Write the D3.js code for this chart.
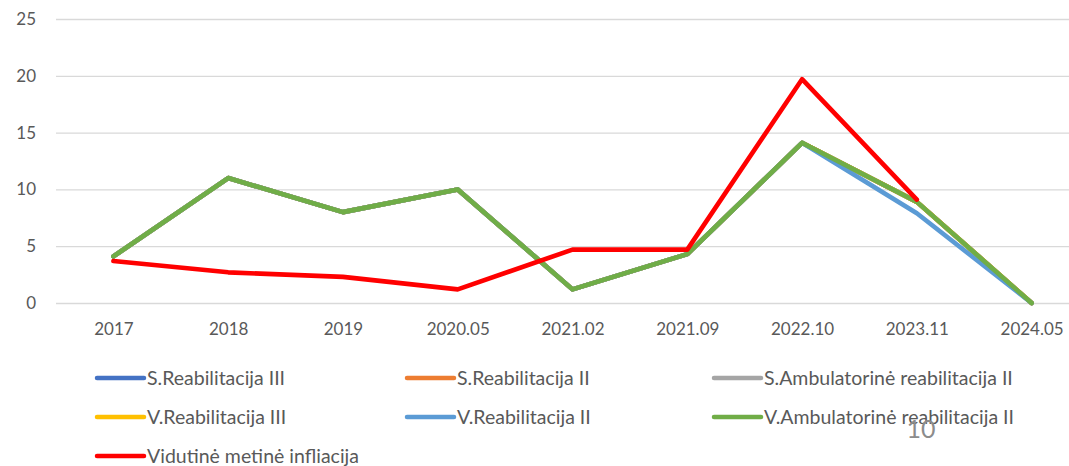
<!DOCTYPE html>
<html>
<head>
<meta charset="utf-8">
<script src="https://cdn.jsdelivr.net/npm/d3@7"></script>
<style>
  body { margin: 0; background: #fff; }
  text { font-family: Lato, "Open Sans", sans-serif; }
</style>
</head>
<body>
<svg id="chart"></svg>
<script>
var categories = ["2017", "2018", "2019", "2020.05", "2021.02", "2021.09", "2022.10", "2023.11", "2024.05"]

var sReab3  = [4.1, 11, 8, 10, 1.2, 4.3, 14.1, 8.9, 0]
var sReab2  = [4.1, 11, 8, 10, 1.2, 4.3, 14.1, 8.9, 0]
var sAmb2   = [4.1, 11, 8, 10, 1.2, 4.3, 14.1, 8.9, 0]
var vReab3  = [4.1, 11, 8, 10, 1.2, 4.3, 14.1, 8.9, 0]
var vReab2  = [4.1, 11, 8, 10, 1.2, 4.3, 14.1, 7.9, 0]
var vAmb2   = [4.1, 11, 8, 10, 1.2, 4.3, 14.1, 8.9, 0]
var inflation = [3.7, 2.7, 2.3, 1.2, 4.7, 4.7, 19.7, 9.1, null]

var yTicks = [0, 5, 10, 15, 20, 25]

var series = [
    {name: "S.Reabilitacija III", values: sReab3, color: "#4472C4"},
    {name: "S.Reabilitacija II", values: sReab2, color: "#ED7D31"},
    {name: "S.Ambulatorinė reabilitacija II", values: sAmb2, color: "#A5A5A5"},
    {name: "V.Reabilitacija III", values: vReab3, color: "#FFC000"},
    {name: "V.Reabilitacija II", values: vReab2, color: "#5B9BD5"},
    {name: "V.Ambulatorinė reabilitacija II", values: vAmb2, color: "#70AD47"},
    {name: "Vidutinė metinė infliacija", values: inflation, color: "#FF0000"}
]

var dimensions = ({
    width: 1069,
    height: 466,
    margin: { top: 19, left: 56, right: -20, bottom: 163 }
})

var svg = d3.select("#chart")
            .attr("width", dimensions.width)
            .attr("height", dimensions.height)

var xScale = d3.scalePoint()
               .domain(categories)
               .range([dimensions.margin.left, dimensions.width - dimensions.margin.right])
               .padding(0.5)

var yScale = d3.scaleLinear()
               .domain([0, 25])
               .range([dimensions.height - dimensions.margin.bottom, dimensions.margin.top])

// gridlines
var yAxis = d3.axisLeft(yScale)
              .tickValues(yTicks)
              .tickSize(-(dimensions.width - dimensions.margin.left + 40))
              .tickPadding(20)
svg.append("g")
   .attr("transform", "translate(" + dimensions.margin.left + ",0)")
   .call(yAxis)
   .call(g => g.select(".domain").remove())
   .call(g => g.selectAll("line").attr("stroke", "#d9d9d9").attr("stroke-width", 1.3))
   .call(g => g.selectAll("text").attr("fill", "#595959").style("font-size", "17px"))

var xAxis = d3.axisBottom(xScale).tickSize(0).tickPadding(20)
svg.append("g")
   .attr("transform", "translate(0," + yScale(0) + ")")
   .call(xAxis)
   .call(g => g.select(".domain").remove())
   .call(g => g.selectAll("text").attr("fill", "#595959").style("font-size", "17px"))

var line = d3.line()
             .defined(d => d != null)
             .x((d, i) => xScale(categories[i]))
             .y(d => yScale(d))

svg.append("g")
   .selectAll("path")
   .data(series)
   .enter()
   .append("path")
   .attr("d", d => line(d.values))
   .attr("fill", "none")
   .attr("stroke", d => d.color)
   .attr("stroke-width", 4.6)
   .attr("stroke-linejoin", "round")
   .attr("stroke-linecap", "round")

// legend
var legendCols = [97, 407, 714]
var legendRows = [378, 417, 456]
var legend = svg.append("g")
                .selectAll("g")
                .data(series)
                .enter()
                .append("g")
                .attr("transform", (d, i) => "translate(" + legendCols[i % 3] + "," + legendRows[Math.floor(i / 3)] + ")")
legend.append("line")
      .attr("x1", 0).attr("x2", 47)
      .attr("stroke", d => d.color)
      .attr("stroke-width", 4.5)
      .attr("stroke-linecap", "round")
legend.append("text")
      .attr("x", 50)
      .attr("dy", "0.35em")
      .attr("fill", "#595959")
      .style("font-size", "19.5px")
      .text(d => d.name)

svg.append("text")
   .attr("x", 921)
   .attr("y", 429)
   .attr("text-anchor", "middle")
   .attr("dy", "0.35em")
   .attr("fill", "#8c8c8c")
   .style("font-size", "25px")
   .text("10")
</script>
</body>
</html>
